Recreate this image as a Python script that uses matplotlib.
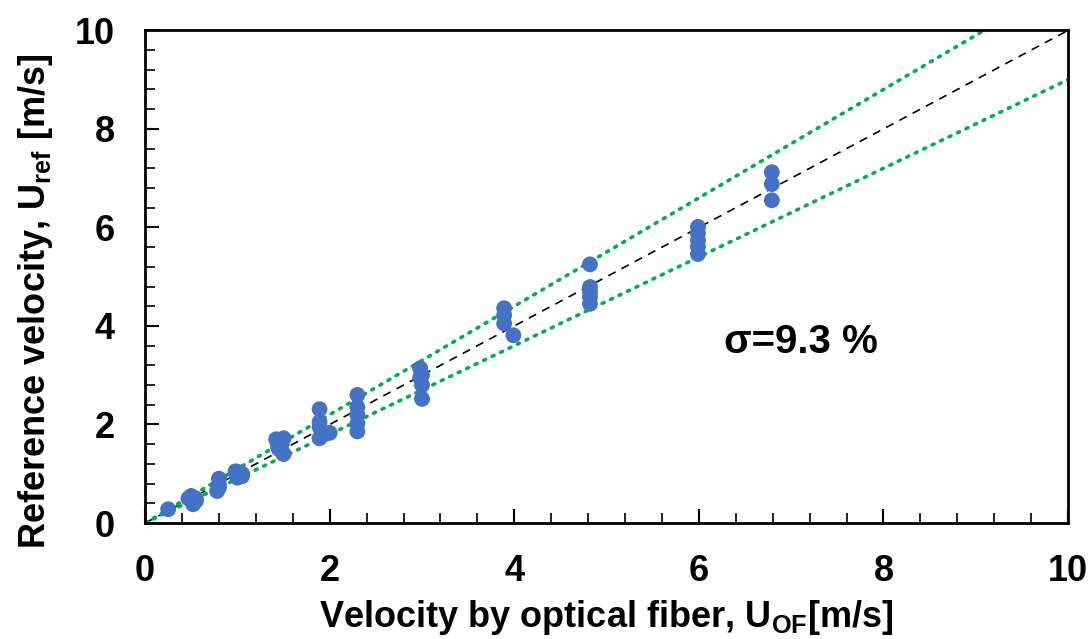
import numpy as np
import matplotlib
matplotlib.use("Agg")
import matplotlib.pyplot as plt
from matplotlib.ticker import MultipleLocator

plt.rcParams['font.family'] = ['Liberation Sans', 'DejaVu Sans']
plt.rcParams['font.weight'] = 'bold'
plt.rcParams['mathtext.fontset'] = 'custom'
plt.rcParams['mathtext.bf'] = 'Liberation Sans:bold'
plt.rcParams['mathtext.rm'] = 'Liberation Sans:bold'
plt.rcParams['mathtext.default'] = 'bf'

u_of = [0.25,
        0.47, 0.55, 0.52, 0.50, 0.55,
        0.80, 0.80, 0.78, 0.80,
        0.98, 1.05, 1.00, 1.05, 1.02,
        1.42, 1.50, 1.45, 1.50, 1.48, 1.44,
        1.89, 1.89, 1.89, 1.89, 2.00, 1.94,
        2.30, 2.30, 2.30, 2.30, 2.30,
        2.98, 3.00, 2.98, 3.00, 3.00,
        3.89, 3.89, 3.89, 3.99,
        4.82, 4.82, 4.82, 4.82, 4.82,
        5.99, 5.99, 5.99, 5.99, 5.99,
        6.79, 6.79, 6.79]
u_ref = [0.28,
         0.50, 0.45, 0.38, 0.55, 0.50,
         0.90, 0.78, 0.65, 0.72,
         1.05, 1.00, 0.92, 0.95, 1.03,
         1.70, 1.72, 1.50, 1.40, 1.60, 1.55,
         2.31, 2.05, 1.95, 1.72, 1.83, 1.80,
         2.60, 2.35, 2.20, 2.02, 1.86,
         3.14, 3.00, 2.95, 2.80, 2.52,
         4.36, 4.22, 4.05, 3.81,
         5.25, 4.79, 4.69, 4.59, 4.45,
         6.01, 5.88, 5.74, 5.61, 5.46,
         7.12, 6.88, 6.55]

line_x = [0, 10]
upper_slope = 1.1
lower_slope = 0.9
sigma_text = "σ=9.3 %"

fig = plt.figure(figsize=(10.91, 6.39), dpi=100)
ax = fig.add_axes([0.133, 0.1815, 0.846, 0.771])

x = np.array(line_x, dtype=float)
ax.plot(x, x, color='black', linestyle=(0, (5, 4)), linewidth=1.2, zorder=2)
ax.plot(x, upper_slope * x, color='#00B050', linestyle=(0, (0.6, 2)), linewidth=2.6,
        dash_capstyle='round', zorder=2)
ax.plot(x, lower_slope * x, color='#00B050', linestyle=(0, (0.6, 2)), linewidth=2.6,
        dash_capstyle='round', zorder=2)

ax.scatter(u_of, u_ref, s=130, color='#4472C4', edgecolors='none', zorder=3)

ax.text(6.27, 3.67, sigma_text, fontsize=29, fontweight='bold', ha='left', va='center')

ax.set_xlim(0, 10)
ax.set_ylim(0, 10)
ax.xaxis.set_major_locator(MultipleLocator(2))
ax.yaxis.set_major_locator(MultipleLocator(2))
ax.xaxis.set_minor_locator(MultipleLocator(0.4))
ax.yaxis.set_minor_locator(MultipleLocator(0.4))
ax.tick_params(which='major', direction='in', length=10, width=1.5, labelsize=26, pad=22)
ax.tick_params(which='minor', direction='in', length=7, width=1.2)
for lab in ax.get_xticklabels() + ax.get_yticklabels():
    lab.set_fontweight('bold')
for sp in ax.spines.values():
    sp.set_linewidth(2)

ax.set_xlabel(r"Velocity by optical fiber, U$_{\mathbf{OF}}$[m/s]", fontsize=26,
              fontweight='bold')
ax.set_ylabel(r"Reference velocity, U$_{\mathbf{ref}}$ [m/s]", fontsize=26,
              fontweight='bold')
ax.xaxis.set_label_coords(0.5, -0.152)
ax.yaxis.set_label_coords(-0.098, 0.45)

fig.savefig("out.png", dpi=100)
